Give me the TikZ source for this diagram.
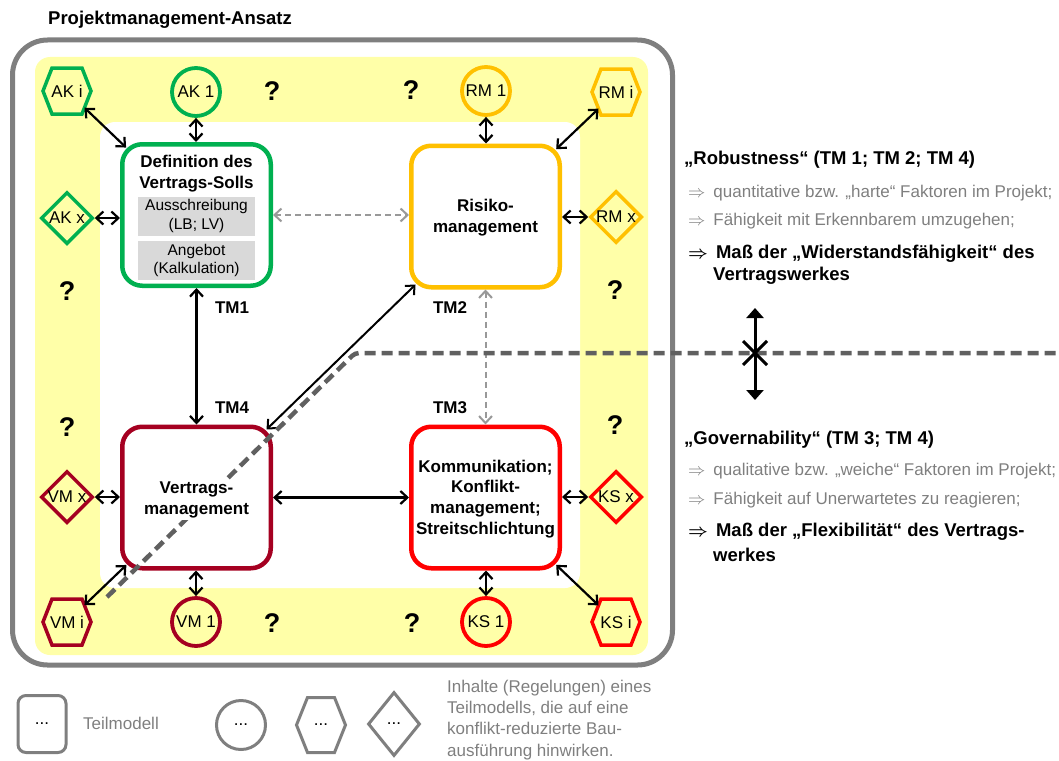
\documentclass[tikz,border=0pt]{standalone}
\usepackage{fontspec}
\setmainfont{Liberation Sans}
\usetikzlibrary{arrows.meta,shapes.geometric}

\definecolor{tmgreen}{HTML}{00B050}
\definecolor{tmorange}{HTML}{FFC000}
\definecolor{tmcrimson}{HTML}{A50021}
\definecolor{tmred}{HTML}{FF0000}
\definecolor{bandyellow}{HTML}{FFFFA8}
\definecolor{framegray}{HTML}{7F7F7F}
\definecolor{boxgray}{HTML}{D9D9D9}
\definecolor{linkgray}{HTML}{999999}
\definecolor{splitgray}{HTML}{606060}
\definecolor{notegray}{HTML}{7F7F7F}

\newcommand{\fsz}[2]{\fontsize{#1pt}{#2pt}\selectfont}
\newcommand{\impl}{$\Rightarrow$\hspace{8pt}}
\newcommand{\boldimpl}{{\boldmath$\Rightarrow$}\hspace{8pt}}
% hexagon outline around a node centre: half width, half height, inset of the top edge
\newcommand{\hexoutline}[5]{%
  \draw[hexline=#2] (#1.center) +(-#3,0) -- +(-#3+#5,-#4) -- +(#3-#5,-#4)
    -- +(#3,0) -- +(#3-#5,#4) -- +(-#3+#5,#4) -- cycle;}

\tikzset{
  every node/.style={font=\fsz{17}{20.4}},
  tmbox/.style={draw=#1, line width=4.5pt, rounded corners=20pt, fill=white,
    minimum width=148.5pt, minimum height=141.5pt, inner sep=0pt},
  boxtext/.style={font=\bfseries\fsz{17}{20.8}, align=center, inner sep=1pt},
  graybox/.style={fill=boxgray, minimum width=117pt, minimum height=39pt,
    align=center, inner sep=0pt, font=\fsz{15.5}{18.6}},
  circnode/.style={circle, draw=#1, line width=3.8pt, minimum size=48pt, inner sep=0pt},
  diamnode/.style={diamond, aspect=1, draw=#1, line width=3.5pt,
    minimum width=52pt, minimum height=52pt, inner sep=0pt},
  hexnode/.style={circle, minimum size=48pt, inner sep=0pt},
  hexline/.style={draw=#1, line width=3.5pt, line join=miter},
  link/.style={{Straight Barb[length=7pt,width=13pt]}-{Straight Barb[length=7pt,width=13pt]},
    line width=2.2pt, black},
  softlink/.style={{Straight Barb[length=7pt,width=13pt]}-{Straight Barb[length=7pt,width=13pt]},
    line width=2pt, linkgray, dash pattern=on 6pt off 4pt},
  qmark/.style={font=\bfseries\fsz{27}{30}, inner sep=0pt},
  tmlabel/.style={font=\bfseries\fsz{17}{20}, inner sep=0pt},
  headline/.style={anchor=west, inner sep=0pt, font=\bfseries\fsz{18.5}{22}},
  note/.style={anchor=west, inner sep=0pt, text=notegray, font=\fsz{17}{21}},
  keynote/.style={anchor=west, inner sep=0pt, font=\bfseries\fsz{18.5}{22}},
  split/.style={line width=4.5pt, splitgray, dash pattern=on 11pt off 6pt, rounded corners=4pt},
  legendline/.style={draw=framegray, line width=3pt},
}

\begin{document}
\begin{tikzpicture}[x=1pt, y=-1pt]
\useasboundingbox (0,0) rectangle (1059,760);

% title
\node[anchor=west, inner sep=0pt, font=\bfseries\fsz{18.5}{22}] (title) at (48,20) {Projektmanagement-Ansatz};

% project frame, yellow band and inner field
\draw[framegray, line width=5pt, rounded corners=35pt] (12.5,40) rectangle (672.5,665);
\fill[bandyellow, rounded corners=15pt] (35,57) rectangle (648,655);
\fill[white, rounded corners=15pt] (100,122) rectangle (580,588);

% partial models
\node[tmbox=tmgreen] (tm1) at (196.5,215) {};
\node[tmbox=tmorange] (rm) at (485.5,216.5) {};
\node[tmbox=tmcrimson] (vm) at (196.5,497.5) {};
\node[tmbox=tmred] (ks) at (485.5,497.5) {};

\node[boxtext] (tm1title) at (196.5,174) {Definition des\\Vertrags-Solls};
\node[graybox] (ausschr) at (196.5,216) {Ausschreibung\\(LB; LV)};
\node[graybox] (angebot) at (196.5,260.5) {Angebot\\(Kalkulation)};
\node[boxtext] (rmtext) at (485.5,217.5) {Risiko-\\management};
\node[boxtext] (kstext) at (485.5,499) {Kommunikation;\\Konflikt-\\management;\\Streitschlichtung};

% contents: circles
\node[circnode=tmgreen] (ak1) at (196,92) {AK 1};
\node[circnode=tmorange] (rm1) at (486,91) {RM 1};
\node[circnode=tmcrimson] (vm1) at (196,622) {VM 1};
\node[circnode=tmred] (ks1) at (486,622) {KS 1};

% contents: diamonds
\node[diamnode=tmgreen] (akx) at (67,218) {AK x};
\node[diamnode=tmorange] (rmx) at (616,217) {RM x};
\node[diamnode=tmcrimson] (vmx) at (67,497) {VM x};
\node[diamnode=tmred] (ksx) at (616,497) {KS x};

% contents: hexagons
\node[hexnode] (aki) at (67,91) {AK i};
\node[hexnode] (rmi) at (616,92) {RM i};
\node[hexnode] (vmi) at (67,622) {VM i};
\node[hexnode] (ksi) at (616,622) {KS i};
\hexoutline{aki}{tmgreen}{24}{23}{9}
\hexoutline{rmi}{tmorange}{24}{23}{9}
\hexoutline{vmi}{tmcrimson}{24}{23}{9}
\hexoutline{ksi}{tmred}{24}{23}{9}

% links between contents and partial models (diagonals reach into the rounded corners)
\draw[link] (ak1.south) -- (ak1.south |- tm1.north);
\draw[link] (akx.east) -- (akx.east -| tm1.west);
\draw[link, shorten >=-8pt] (aki) -- (tm1);
\draw[link] (rm1.south) -- (rm1.south |- rm.north);
\draw[link] (rmx.west) -- (rmx.west -| rm.east);
\draw[link, shorten >=-8pt] (rmi) -- (rm);
\draw[link] (vm1.north) -- (vm1.north |- vm.south);
\draw[link] (vmx.east) -- (vmx.east -| vm.west);
\draw[link, shorten >=-8pt] (vmi) -- (vm);
\draw[link] (ks1.north) -- (ks1.north |- ks.south);
\draw[link] (ksx.west) -- (ksx.west -| ks.east);
\draw[link, shorten >=-8pt] (ksi) -- (ks);

% links between partial models
\draw[link] (tm1) -- (vm);
\draw[link] (vm) -- (ks);
\draw[link, line width=2pt, shorten <=-7pt, shorten >=-7pt] (vm) -- (rm);
\draw[softlink] (tm1.east) -- (tm1.east -| rm.west);
\draw[softlink] (rm) -- (ks);

\node[tmlabel] (lab1) at (232,308) {TM1};
\node[tmlabel] (lab2) at (450,308) {TM2};
\node[tmlabel] (lab4) at (232,408) {TM4};
\node[tmlabel] (lab3) at (450,408) {TM3};

% open questions
\node[qmark] (q1) at (272,91) {?};
\node[qmark] (q2) at (411,90) {?};
\node[qmark] (q3) at (67,291) {?};
\node[qmark] (q4) at (615,290) {?};
\node[qmark] (q5) at (67,427) {?};
\node[qmark] (q6) at (615,425) {?};
\node[qmark] (q7) at (272,623) {?};
\node[qmark] (q8) at (412,623) {?};

% boundary between robustness and governability
\coordinate (splitstart) at (107,597);
\coordinate (splitbend) at (355,353);
\coordinate (splitend) at (1059,353);
\draw[split] (splitstart) -- (splitbend) -- (splitend);

\node[boxtext, fill=white, inner sep=2pt] (vmtext) at (196.5,500) {Vertrags-\\management};

% trade-off marker
\coordinate (tradeup) at (755,308);
\coordinate (tradedown) at (755,400);
\coordinate (tradecross) at (755,353);
\draw[line width=3pt, {Triangle[length=10pt,width=17pt]}-{Triangle[length=10pt,width=17pt]}] (tradeup) -- (tradedown);
\draw[line width=3pt] (tradecross) +(-12,-12) -- +(12,12) +(-12,12) -- +(12,-12);

% robustness
\node[headline] (rob) at (684,160) {„Robustness“ (TM 1; TM 2; TM 4)};
\node[note] (rob1) at (688,193) {\impl quantitative bzw. „harte“ Faktoren im Projekt;};
\node[note] (rob2) at (688,221) {\impl Fähigkeit mit Erkennbarem umzugehen;};
\node[keynote] (rob3) at (688,254) {\boldimpl Maß der „Widerstandsfähigkeit“ des};
\node[keynote] (rob4) at (713,276) {Vertragswerkes};

% governability
\node[headline] (gov) at (684,440) {„Governability“ (TM 3; TM 4)};
\node[note] (gov1) at (688,471) {\impl qualitative bzw. „weiche“ Faktoren im Projekt;};
\node[note] (gov2) at (688,500) {\impl Fähigkeit auf Unerwartetes zu reagieren;};
\node[keynote] (gov3) at (688,532) {\boldimpl Maß der „Flexibilität“ des Vertrags-};
\node[keynote] (gov4) at (713,555) {werkes};

% legend
\node[legendline, rounded corners=8pt, minimum width=48pt, minimum height=57pt, inner sep=0pt] (keybox) at (42,724) {...};
\node[note, text=notegray] (keyboxtext) at (83,723) {Teilmodell};
\node[legendline, circle, minimum size=49pt, inner sep=0pt] (keycirc) at (241,725) {...};
\node[inner sep=0pt] (keyhex) at (321,725) {...};
\draw[legendline] (keyhex.center) +(-24.5,0) -- +(-13.5,-27.5) -- +(13.5,-27.5)
  -- +(24.5,0) -- +(13.5,27.5) -- +(-13.5,27.5) -- cycle;
\node[legendline, diamond, aspect=1, minimum width=52pt, minimum height=64pt, inner sep=0pt] (keydiam) at (394,724) {...};
\node[anchor=north west, inner sep=0pt, align=left, text=notegray, font=\fsz{17}{21.2}] (keytext) at (447,680)
  {Inhalte (Regelungen) eines\\Teilmodells, die auf eine\\konflikt-reduzierte Bau-\\ausführung hinwirken.};

\end{tikzpicture}
\end{document}
